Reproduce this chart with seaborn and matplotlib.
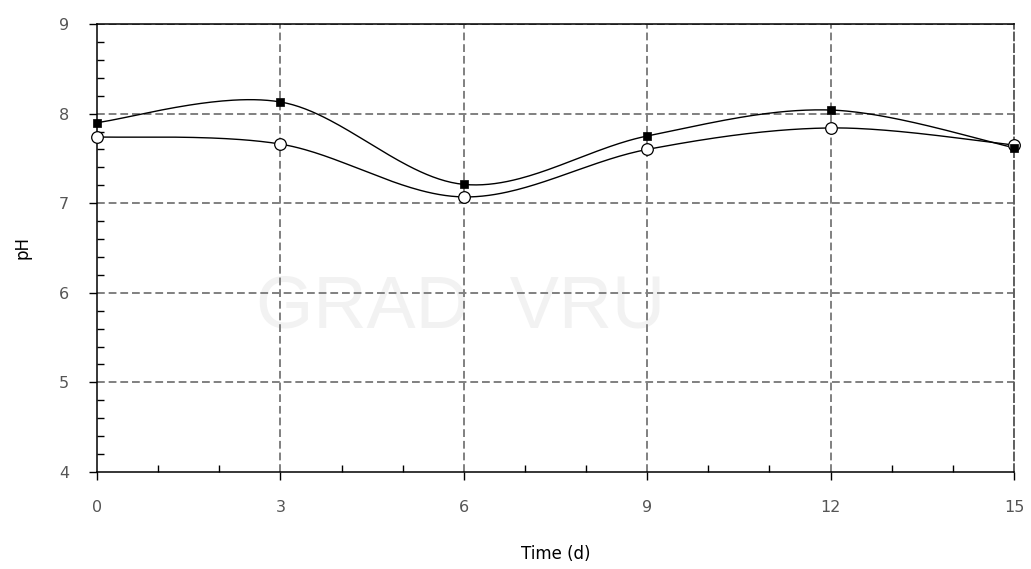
import numpy as np
import pandas as pd
import matplotlib
matplotlib.use("Agg")
import matplotlib.pyplot as plt
import seaborn as sns
from matplotlib.ticker import MultipleLocator

# ---- data ----
time_d = [0, 3, 6, 9, 12, 15]
ph_square = [7.90, 8.13, 7.21, 7.75, 8.04, 7.62]
ph_circle = [7.74, 7.66, 7.07, 7.60, 7.84, 7.65]
x_ticks = [0, 3, 6, 9, 12, 15]
y_ticks = [4, 5, 6, 7, 8, 9]


def smooth_curve(x, y, n=60):
    """Excel-style smoothed line (Catmull-Rom Bezier) through the points."""
    P = np.column_stack([x, y]).astype(float)
    Pe = np.vstack([P[0], P, P[-1]])
    t = np.linspace(0, 1, n)[:, None]
    out = []
    for i in range(len(P) - 1):
        p0, p3 = Pe[i + 1], Pe[i + 2]
        c1 = p0 + (Pe[i + 2] - Pe[i]) / 6.0
        c2 = p3 - (Pe[i + 3] - Pe[i + 1]) / 6.0
        seg = ((1 - t) ** 3) * p0 + 3 * ((1 - t) ** 2) * t * c1 + 3 * (1 - t) * t ** 2 * c2 + t ** 3 * p3
        out.append(seg if i == 0 else seg[1:])
    out = np.vstack(out)
    return out[:, 0], out[:, 1]


sns.set_theme(style="white")
plt.rcParams['font.family'] = ['DejaVu Sans']

fig = plt.figure(figsize=(10.31, 5.69), dpi=100)
ax = fig.add_axes([0.0941, 0.1705, 0.8894, 0.7873])

# watermark
ax.text(0.397, 0.365, "GRAD  VRU", transform=ax.transAxes, ha="center", va="center",
        fontsize=53, color="#f2f2f2", zorder=0, family=["Liberation Sans", "DejaVu Sans"])

# grid
grid_kw = dict(color="#808080", linestyle=(0, (4, 2)), linewidth=1.4, zorder=1)
for xv in x_ticks[1:]:
    ax.axvline(xv, **grid_kw)
for yv in y_ticks[1:]:
    ax.axhline(yv, **grid_kw)

# smooth lines
for ys in (ph_square, ph_circle):
    sx, sy = smooth_curve(time_d, ys)
    sns.lineplot(x=sx, y=sy, ax=ax, color="black", linewidth=1.0, sort=False,
                 estimator=None, zorder=3)

# markers
sns.scatterplot(x=time_d, y=ph_circle, ax=ax, marker="o", s=70, color="white",
                edgecolor="black", linewidth=0.9, zorder=5, clip_on=False)
sns.scatterplot(x=time_d, y=ph_square, ax=ax, marker="s", s=28, color="black",
                edgecolor="black", linewidth=0.5, zorder=6, clip_on=False)

ax.set_xlim(0, 15)
ax.set_ylim(4, 9)
ax.set_xticks(x_ticks)
ax.set_yticks(y_ticks)
ax.xaxis.set_minor_locator(MultipleLocator(1))
ax.yaxis.set_minor_locator(MultipleLocator(0.2))

ax.tick_params(axis="both", which="major", direction="out", length=6, width=1,
               color="black", labelsize=11.5, labelcolor="#555555")
ax.tick_params(axis="x", which="major", pad=14)
ax.tick_params(axis="y", which="major", pad=14)
ax.tick_params(axis="both", which="minor", direction="in", length=5, width=1,
               color="black")
ax.tick_params(axis="both", which="both", bottom=True, left=True, top=False, right=False)

for side in ("left", "bottom", "top"):
    ax.spines[side].set_color("black")
    ax.spines[side].set_linewidth(1.1)
ax.spines["right"].set_color("#606060")
ax.spines["right"].set_linewidth(1.4)
ax.spines["right"].set_linestyle((0, (4, 2)))

ax.set_xlabel("Time (d)", fontsize=12, color="black", labelpad=22)
ax.set_ylabel("pH", fontsize=12, color="black", labelpad=20)

fig.savefig("out.png", dpi=100)
